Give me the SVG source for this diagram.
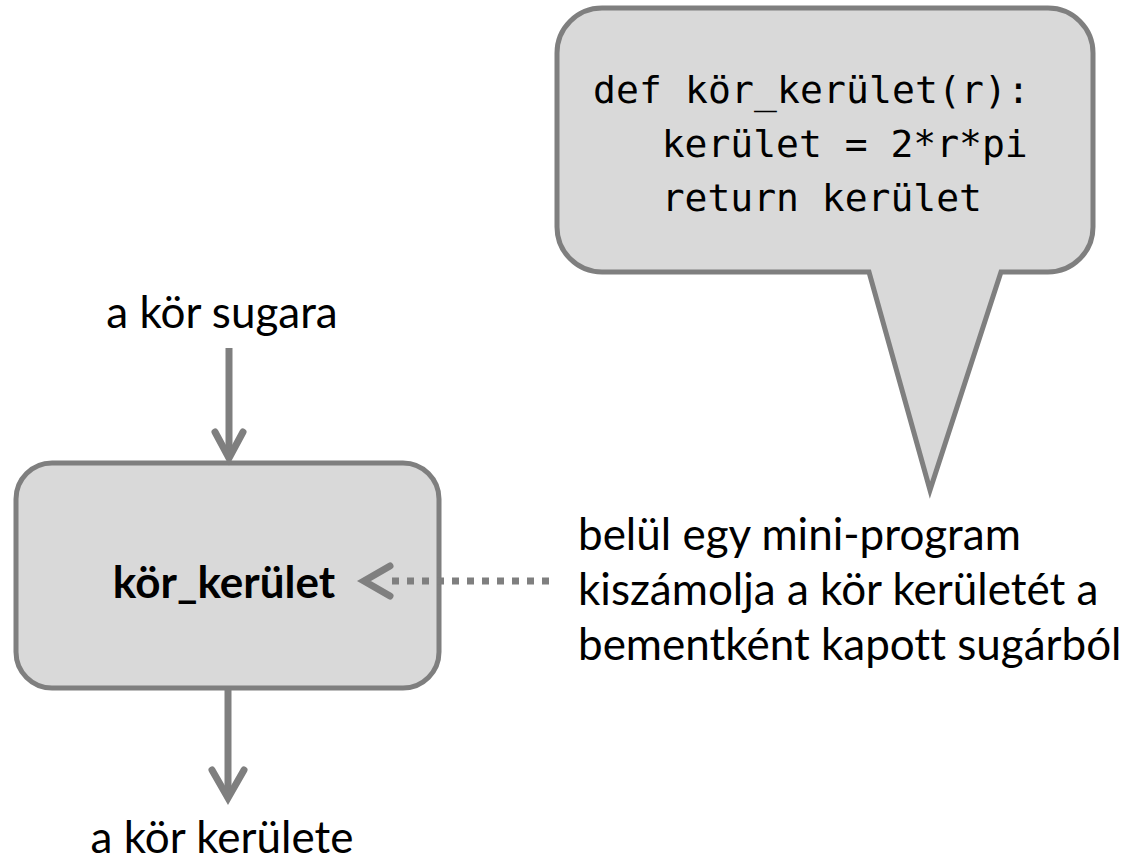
<svg xmlns="http://www.w3.org/2000/svg" width="1137" height="866" viewBox="0 0 1137 866">
<style>
.shape{fill:#d9d9d9;stroke:#7f7f7f;stroke-width:5}
.lbl{font-family:Lato,"Open Sans","Liberation Sans",sans-serif;font-size:44px;fill:#000;font-variant-ligatures:none}
.bold{font-weight:bold}
.code{font-family:"DejaVu Sans Mono","Liberation Mono",monospace;font-size:38px;fill:#000}
.conn{stroke:#7f7f7f;stroke-width:7;fill:none}
.head{stroke:#7f7f7f;stroke-width:7;fill:none;stroke-linecap:round;stroke-linejoin:miter}
</style>
<rect width="1137" height="866" fill="#fff"/>
<g id="callout">
<path class="shape" d="M602,8 H1048 A45,45 0 0 1 1093,53 V227 A45,45 0 0 1 1048,272 H1001 L930,490 L869,272 H602 A45,45 0 0 1 557,227 V53 A45,45 0 0 1 602,8 Z"/>
<text class="code" x="593" y="103" textLength="437">def kör_kerület(r):</text>
<text class="code" x="593" y="157" xml:space="preserve">   kerület = 2*r*pi</text>
<text class="code" x="593" y="211" xml:space="preserve">   return kerület</text>
</g>
<g id="input-label">
<text class="lbl" x="222" y="328" text-anchor="middle">a kör sugara</text>
</g>
<g id="function-box">
<rect class="shape" x="16" y="463" width="423" height="225" rx="36" ry="36"/>
<text class="lbl bold" x="224" y="598" text-anchor="middle">kör_kerület</text>
</g>
<g id="output-label">
<text class="lbl" x="222" y="853" text-anchor="middle">a kör kerülete</text>
</g>
<g id="description">
<text class="lbl" x="578" y="550">belül egy mini-program</text>
<text class="lbl" x="578" y="605">kiszámolja a kör kerületét a</text>
<text class="lbl" x="578" y="660">bementként kapott sugárból</text>
</g>
<g id="connectors">
<line class="conn" x1="229" y1="348" x2="229" y2="456"/>
<path class="head" d="M215,432 L229,458 L243,432"/>
<line class="conn" x1="228" y1="690" x2="228" y2="796"/>
<path class="head" d="M212,770 L228,798 L244,770"/>
<line class="conn" x1="392" y1="581" x2="556" y2="581" stroke-dasharray="7 8"/>
<path class="head" d="M390,566 L364,581 L390,596"/>
</g>
</svg>
